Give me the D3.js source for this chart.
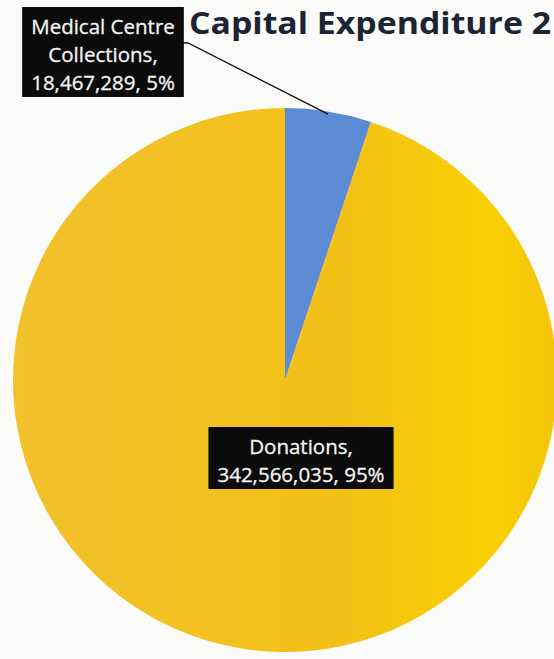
<!DOCTYPE html>
<html>
<head>
<meta charset="utf-8">
<script src="https://cdn.jsdelivr.net/npm/d3@7"></script>
<style>
  html, body { margin: 0; padding: 0; background: #fbfbfa; }
  svg { display: block; }
</style>
</head>
<body>
<div id="chart"></div>
<script>
// Chart data
const categories = ["Medical Centre Collections", "Donations"];
const values = [18467289, 342566035];
const labelNameLines = [["Medical Centre", "Collections,"], ["Donations,"]];
const colors = ["#5b8bd2", "#f4c214"];
const title = "Capital Expenditure 2";

const width = 554;
const height = 659;
const cx = 285, cy = 380, radius = 272;

const svg = d3.select('#chart')
    .append('svg')
    .attr('width', width)
    .attr('height', height);

// subtle gradient so the yellow looks a bit like the printed page
const defs = svg.append('defs');
const grad = defs.append('linearGradient')
    .attr('id', 'yellowGrad')
    .attr('x1', '0%').attr('x2', '100%')
    .attr('y1', '0%').attr('y2', '0%');
grad.append('stop').attr('offset', '0%').attr('stop-color', '#f2c12c');
grad.append('stop').attr('offset', '60%').attr('stop-color', '#f3c116');
grad.append('stop').attr('offset', '88%').attr('stop-color', '#f8cf02');
grad.append('stop').attr('offset', '100%').attr('stop-color', '#f4c40c');

const data = categories.map((c, i) => ({ name: c, value: values[i], lines: labelNameLines[i], color: colors[i] }));
const total = d3.sum(values);

const pie = d3.pie()
    .sort(null)
    .value(d => d.value)
    .startAngle(0)
    .endAngle(2 * Math.PI);

const arcs = pie(data);

const arc = d3.arc()
    .innerRadius(0)
    .outerRadius(radius);

const g = svg.append('g')
    .attr('transform', `translate(${cx},${cy})`);

g.selectAll('path')
    .data(arcs)
    .join('path')
    .attr('d', arc)
    .attr('fill', (d, i) => i === 1 ? 'url(#yellowGrad)' : d.data.color);

// Title (cut off at the right edge as in the original)
svg.append('text')
    .attr('x', 189)
    .attr('y', 34)
    .attr('font-family', 'Open Sans, sans-serif')
    .attr('font-weight', 'bold')
    .attr('font-size', 30)
    .attr('fill', '#1c2333')
    .attr('textLength', 362)
    .attr('lengthAdjust', 'spacingAndGlyphs')
    .text(title);

const fmt = d3.format(',');
const labelLines = d => d.data.lines.concat([
    `${fmt(d.data.value)}, ${Math.round(d.data.value / total * 100)}%`
]);

// label boxes: [centre x, top y]
const boxPos = [[103, 7], [301, 427]];
const lineH = 28;

// leader line for the small slice
const edgeArc = d3.arc().innerRadius(radius * 0.99).outerRadius(radius * 0.99);
const tip = edgeArc.centroid(arcs[0]);
const mBoxRight = 183, mBoxY = 43;
svg.append('path')
    .attr('d', `M${mBoxRight},${mBoxY} L${mBoxRight + 5},${mBoxY} L${cx + tip[0]},${cy + tip[1]}`)
    .attr('fill', 'none')
    .attr('stroke', '#111')
    .attr('stroke-width', 1.3);

arcs.forEach((d, i) => {
    const lines = labelLines(d);
    const [bx, by] = boxPos[i];
    const lg = svg.append('g');
    const rect = lg.append('rect')
        .attr('fill', '#0b0b0b');
    const txt = lg.append('text')
        .attr('font-family', 'Open Sans, sans-serif')
        .attr('font-size', 20.5)
        .attr('fill', '#f4f4f4')
        .attr('stroke', '#f4f4f4')
        .attr('stroke-width', 0.3)
        .attr('text-anchor', 'middle');
    lines.forEach((l, j) => {
        txt.append('tspan')
            .attr('x', bx)
            .attr('y', by + 27 + j * lineH)
            .text(l);
    });
    const w = txt.node().getBBox().width + 18;
    rect.attr('x', bx - w / 2)
        .attr('y', by)
        .attr('width', w)
        .attr('height', lines.length * lineH + 6);
});
</script>
</body>
</html>
